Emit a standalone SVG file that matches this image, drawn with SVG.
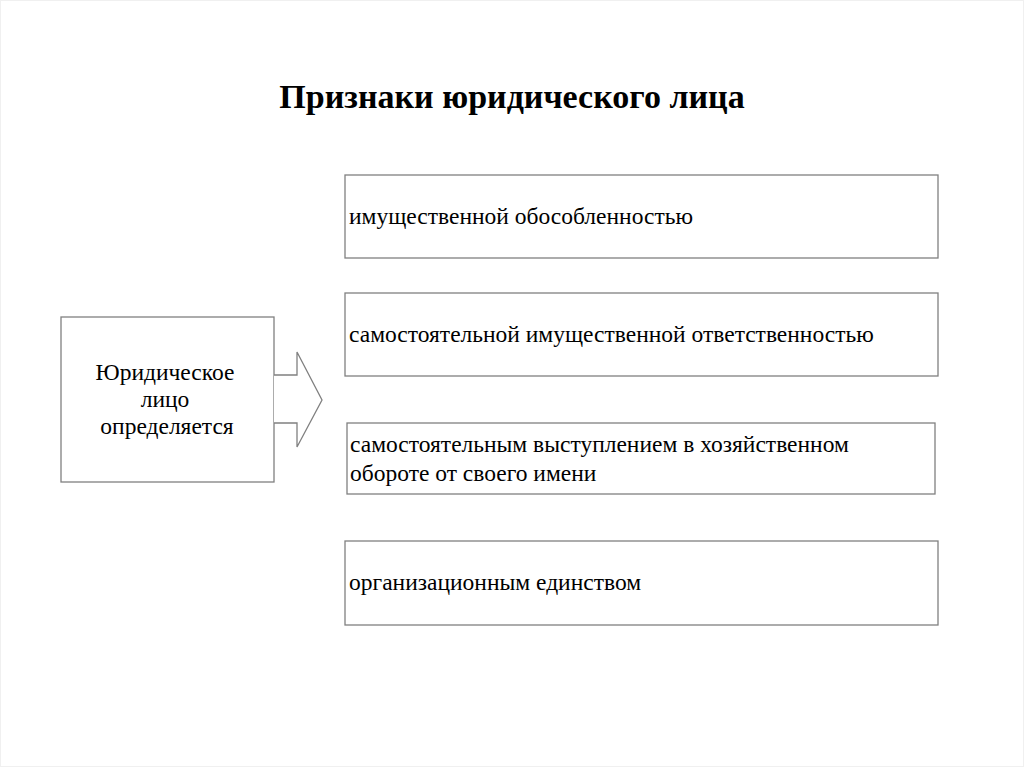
<svg xmlns="http://www.w3.org/2000/svg" width="1024" height="767" viewBox="0 0 1024 767">
<style>
.box{fill:#fff;stroke:#808080;stroke-width:1.3}
.t{font-family:"Liberation Serif","Times New Roman",serif;font-size:23.5px;fill:#000}
.title{font-family:"Liberation Serif","Times New Roman",serif;font-size:34px;font-weight:bold;fill:#000}
</style>
<rect x="0" y="0" width="1024" height="767" fill="#fff"/>
<rect x="0.5" y="0.5" width="1023" height="766" fill="none" stroke="#f0f0f0" stroke-width="1"/>
<text class="title" x="512" y="108" text-anchor="middle">Признаки юридического лица</text>
<g id="source">
<rect class="box" x="61" y="317" width="213" height="165"/>
<text class="t" x="165" y="380" text-anchor="middle">Юридическое</text>
<text class="t" x="165" y="407" text-anchor="middle">лицо</text>
<text class="t" x="167" y="434" text-anchor="middle">определяется</text>
</g>
<g id="connectors">
<path d="M274,375 L297,375 L297,352 L322,400 L297,447 L297,423 L274,423" fill="#fff" stroke="#808080" stroke-width="1.3"/>
</g>
<g id="n1">
<rect class="box" x="345" y="175" width="593" height="83"/>
<text class="t" x="349" y="224">имущественной обособленностью</text>
</g>
<g id="n2">
<rect class="box" x="345" y="293" width="593" height="83"/>
<text class="t" x="349" y="342">самостоятельной имущественной ответственностью</text>
</g>
<g id="n3">
<rect class="box" x="347" y="423" width="588" height="71"/>
<text class="t" x="350" y="452">самостоятельным выступлением в хозяйственном</text>
<text class="t" x="350" y="481">обороте от своего имени</text>
</g>
<g id="n4">
<rect class="box" x="345" y="541" width="593" height="84"/>
<text class="t" x="349" y="590">организационным единством</text>
</g>
</svg>
